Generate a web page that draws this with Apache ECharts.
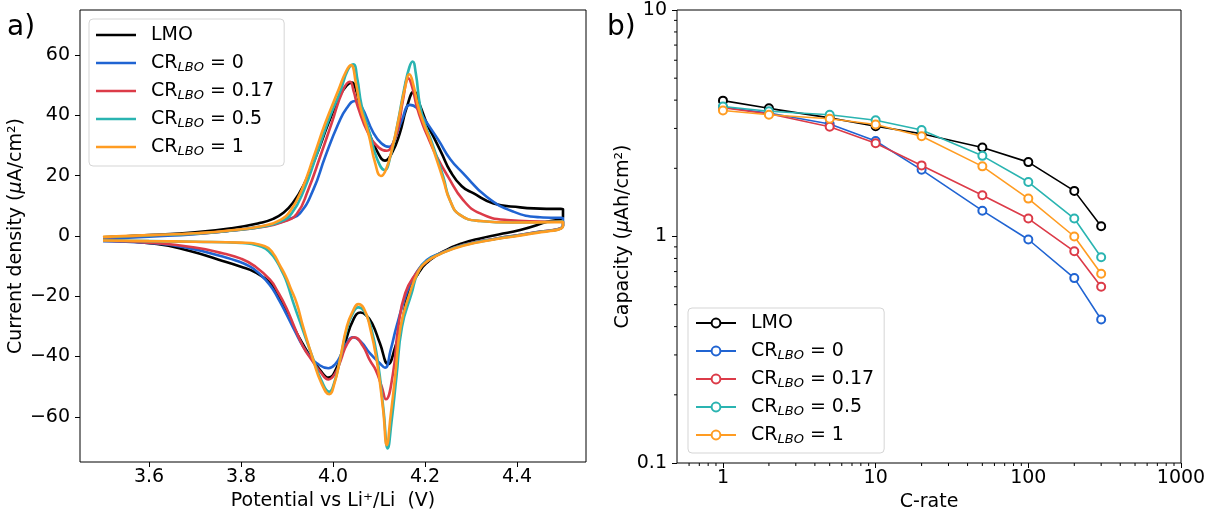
<!DOCTYPE html>
<html><head><meta charset="utf-8">
<script src="https://cdn.jsdelivr.net/npm/echarts@6/dist/echarts.min.js"></script>
<style>html,body{margin:0;padding:0;background:#fff}#c{width:1209px;height:510px}</style>
</head><body><div id="c"></div>
<script>
// ---------- Panel a: cyclic voltammograms, [potential V, current µA/cm²] ----------
const lmoAnodic = [[3.50,-0.4],[3.60,0.3],[3.70,1.2],[3.78,2.6],[3.84,4.3],[3.87,5.7],[3.893,7.8],[3.913,11],[3.936,16.8],[3.964,26.8],[3.99,37.4],[4.015,46.5],[4.03,50],[4.041,50.9],[4.05,48.5],[4.058,43.5],[4.079,34],[4.098,27.5],[4.113,25],[4.128,27.5],[4.145,34],[4.16,42.5],[4.176,47.9],[4.19,43],[4.205,37],[4.22,32.5],[4.236,27.5],[4.255,21.5],[4.28,16.5],[4.305,14.2],[4.349,10.8],[4.407,9.5],[4.45,9.1],[4.5,8.9]];
const lmoCathodic = [[4.5,6.4],[4.465,4.7],[4.407,2.0],[4.36,0.5],[4.32,-0.8],[4.28,-2.5],[4.247,-4.6],[4.211,-8],[4.185,-12.5],[4.164,-19],[4.148,-30.1],[4.135,-37],[4.12,-42.5],[4.102,-35.6],[4.085,-29],[4.072,-26.3],[4.06,-25.4],[4.045,-27.5],[4.026,-35.6],[4.01,-43],[3.99,-47],[3.972,-44.5],[3.953,-40.5],[3.935,-36],[3.917,-31],[3.899,-25],[3.88,-19.5],[3.863,-15.5],[3.83,-12],[3.8,-10.2],[3.75,-7.8],[3.689,-5],[3.617,-2.6],[3.5,-1.5]];
const cr0Anodic = [[3.50,-1.0],[3.60,-0.2],[3.70,0.6],[3.78,1.8],[3.85,3.3],[3.88,4.3],[3.905,5.6],[3.928,7.5],[3.957,15.3],[3.983,26.3],[4.012,37.4],[4.03,42.5],[4.048,44.8],[4.062,42.9],[4.087,34.5],[4.105,30.8],[4.122,29.6],[4.135,32.5],[4.15,38.5],[4.167,43.5],[4.182,42.5],[4.2,38.5],[4.229,31.9],[4.255,25.5],[4.283,20.8],[4.334,13],[4.392,8.1],[4.45,6.2],[4.5,5.9]];
const cr0Cathodic = [[4.5,3.6],[4.428,0.9],[4.356,-0.8],[4.283,-3],[4.233,-5.8],[4.204,-8],[4.18,-12.5],[4.16,-19],[4.138,-30.1],[4.125,-38],[4.113,-43.7],[4.1,-42],[4.08,-38.9],[4.06,-35],[4.043,-33.6],[4.03,-35.5],[4.019,-38.9],[4.005,-42.5],[3.99,-43.9],[3.965,-42.3],[3.95,-40],[3.935,-36.7],[3.917,-31.5],[3.899,-26],[3.88,-20.5],[3.863,-16.3],[3.84,-12.5],[3.82,-10.2],[3.79,-8.2],[3.762,-6.9],[3.689,-4.1],[3.6,-2.3],[3.5,-1.7]];
const cr017Anodic = [[3.50,-0.5],[3.60,0.2],[3.70,0.8],[3.78,1.8],[3.85,3.1],[3.89,4.6],[3.921,7.3],[3.946,15.3],[3.972,26.3],[3.997,37.4],[4.022,48.5],[4.037,51.2],[4.045,48],[4.054,42.9],[4.077,34],[4.1,29.3],[4.117,28.3],[4.13,30.5],[4.142,36],[4.152,45],[4.164,52.3],[4.173,49],[4.182,43],[4.195,37],[4.209,31.9],[4.225,26.5],[4.25,19.7],[4.283,11.9],[4.32,7.5],[4.378,5.3],[4.45,4.8],[4.5,4.7]];
const cr017Cathodic = [[4.5,3.5],[4.428,0.9],[4.356,-0.8],[4.283,-3],[4.233,-5.8],[4.204,-8.5],[4.18,-12.5],[4.157,-19],[4.142,-30.1],[4.13,-46],[4.115,-54.2],[4.106,-50],[4.093,-44.5],[4.08,-41.2],[4.065,-36.5],[4.046,-33.6],[4.03,-36],[4.017,-41.2],[4.005,-45.5],[3.99,-47.6],[3.972,-45],[3.953,-41],[3.935,-36.7],[3.917,-30.5],[3.899,-24],[3.88,-18.5],[3.863,-14.5],[3.83,-10],[3.8,-7.5],[3.762,-5.8],[3.7,-3.8],[3.6,-2.2],[3.5,-1.6]];
const cr05Anodic = [[3.50,-0.4],[3.60,0.2],[3.70,0.8],[3.78,1.8],[3.85,3.2],[3.885,4.7],[3.91,7.5],[3.937,15.3],[3.963,26.3],[3.988,37.4],[4.017,48.5],[4.032,55],[4.044,57],[4.053,52],[4.062,43.5],[4.08,34],[4.096,25.5],[4.112,21.9],[4.125,26.5],[4.14,37],[4.155,49],[4.166,56],[4.173,57.9],[4.18,54],[4.189,43.5],[4.2,37],[4.213,31.9],[4.225,26.5],[4.24,19.5],[4.254,12],[4.276,7],[4.32,5],[4.39,4.5],[4.5,4.8]];
const cr05Cathodic = [[4.5,3.4],[4.428,0.8],[4.356,-0.9],[4.283,-3.1],[4.233,-5.9],[4.204,-8.3],[4.185,-12],[4.171,-19],[4.15,-30.1],[4.138,-46.7],[4.127,-62],[4.119,-70.5],[4.11,-58],[4.097,-41.2],[4.082,-30],[4.068,-25],[4.055,-23.7],[4.042,-26],[4.03,-31],[4.015,-41.2],[4.003,-48.5],[3.992,-51.7],[3.975,-48],[3.955,-40],[3.932,-30.1],[3.914,-22.3],[3.9,-15.5],[3.89,-12],[3.878,-8.5],[3.865,-5.8],[3.845,-3.6],[3.8,-2.3],[3.7,-1.9],[3.6,-1.7],[3.5,-1.5]];
const cr1Anodic = [[3.50,-0.3],[3.60,0.3],[3.70,0.9],[3.78,1.9],[3.85,3.4],[3.885,5.3],[3.907,8.3],[3.932,15.3],[3.958,26.3],[3.983,37.4],[4.012,48.5],[4.028,54.5],[4.039,56.7],[4.05,50.5],[4.059,43],[4.077,34],[4.092,24],[4.104,19.9],[4.115,22],[4.13,30],[4.145,40.5],[4.157,49.5],[4.166,53.7],[4.175,50],[4.185,43],[4.198,37],[4.211,31.9],[4.225,25.5],[4.24,18.5],[4.254,11.9],[4.276,7],[4.32,5],[4.39,4.5],[4.5,4.7]];
const cr1Cathodic = [[4.5,3.3],[4.428,0.7],[4.356,-1],[4.283,-3.2],[4.233,-6],[4.204,-8.5],[4.185,-12],[4.167,-19],[4.147,-30.1],[4.135,-46.7],[4.125,-60],[4.117,-69.4],[4.109,-57.7],[4.095,-41.2],[4.08,-30],[4.067,-24],[4.055,-22.6],[4.043,-25],[4.03,-30.1],[4.015,-41.2],[4.003,-49],[3.992,-52.5],[3.975,-48.9],[3.957,-41.2],[3.935,-30.1],[3.921,-22.3],[3.907,-17],[3.897,-13.3],[3.884,-9.6],[3.87,-5.8],[3.852,-3.4],[3.8,-2.2],[3.7,-1.9],[3.6,-1.7],[3.5,-1.5]];
const cvXTicks = [3.6, 3.8, 4.0, 4.2, 4.4];
const cvYTicks = [-60, -40, -20, 0, 20, 40, 60];

// ---------- Panel b: rate capability ----------
const cRates = [1, 2, 5, 10, 20, 50, 100, 200, 300];
const capLMO   = [3.98, 3.68, 3.34, 3.07, 2.84, 2.47, 2.13, 1.59, 1.11];
const capCR0   = [3.72, 3.51, 3.14, 2.64, 1.97, 1.30, 0.97, 0.655, 0.43];
const capCR017 = [3.70, 3.48, 3.05, 2.58, 2.06, 1.52, 1.20, 0.86, 0.60];
const capCR05  = [3.75, 3.57, 3.45, 3.26, 2.95, 2.27, 1.74, 1.20, 0.81];
const capCR1   = [3.60, 3.45, 3.31, 3.12, 2.77, 2.04, 1.47, 1.00, 0.685];
const rateXTicks = [1, 10, 100, 1000];
const rateXMinor = [0.6,0.7,0.8,0.9,2,3,4,5,6,7,8,9,20,30,40,50,60,70,80,90,200,300,400,500,600,700,800,900];
const rateYMinor = [0.2,0.3,0.4,0.5,0.6,0.7,0.8,0.9,2,3,4,5,6,7,8,9];

const labels = ['LMO', 'CR = 0', 'CR = 0.17', 'CR = 0.5', 'CR = 1'];
const colors = ['#000000', '#2064d2', '#dc3b48', '#2ab4b1', '#ff9c22'];

const FONT = 'DejaVu Sans';
const fmtLegend = n => {
  const t = n.slice(2);
  return t.startsWith('CR') ? 'CR{s|LBO}' + t.slice(2) : t;
};
const minus = v => (v < 0 ? '\u2212' + Math.abs(v) : String(v));

const cvSets = [[lmoAnodic, lmoCathodic], [cr0Anodic, cr0Cathodic], [cr017Anodic, cr017Cathodic], [cr05Anodic, cr05Cathodic], [cr1Anodic, cr1Cathodic]];
const capSets = [capLMO, capCR0, capCR017, capCR05, capCR1];

const series = [];
cvSets.forEach((s, i) => {
  series.push({
    name: 'a:' + labels[i], type: 'line', xAxisIndex: 0, yAxisIndex: 0,
    data: s[0].concat(s[1]), showSymbol: false, symbol: 'none', smooth: 0.5,
    lineStyle: { color: colors[i], width: 2.6 }, itemStyle: { color: colors[i] },
    clip: true, z: 2 + i
  });
});
capSets.forEach((s, i) => {
  series.push({
    name: 'b:' + labels[i], type: 'line', xAxisIndex: 1, yAxisIndex: 1,
    data: cRates.map((c, k) => [c, s[k]]), symbol: 'emptyCircle', symbolSize: 8,
    lineStyle: { color: colors[i], width: 1.6 },
    itemStyle: { color: colors[i], borderColor: colors[i], borderWidth: 1.6 },
    z: 2 + i
  });
});
// minor log ticks (drawn through the axis scales)
series.push({
  type: 'custom', xAxisIndex: 1, yAxisIndex: 1, silent: true, clip: false,
  data: rateXMinor.map(v => [v, 0.1]),
  renderItem: (params, api) => {
    const p = api.coord([api.value(0), api.value(1)]);
    return { type: 'line', shape: { x1: p[0], y1: p[1], x2: p[0], y2: p[1] + 3 }, style: { stroke: '#000', lineWidth: 1 } };
  }
});
series.push({
  type: 'custom', xAxisIndex: 1, yAxisIndex: 1, silent: true, clip: false,
  data: rateYMinor.map(v => [0.5, v]),
  renderItem: (params, api) => {
    const p = api.coord([api.value(0), api.value(1)]);
    return { type: 'line', shape: { x1: p[0], y1: p[1], x2: p[0] - 3, y2: p[1] }, style: { stroke: '#000', lineWidth: 1 } };
  }
});

const legendBase = {
  orient: 'vertical', itemWidth: 40, itemGap: 6,
  backgroundColor: 'rgba(255,255,255,0.8)', borderColor: '#d5d5d5', borderWidth: 1, borderRadius: 4,
  formatter: fmtLegend, selectedMode: false,
  textStyle: {
    fontFamily: FONT, fontSize: 19, color: '#000', lineHeight: 22, padding: [0, 0, 0, 10],
    rich: { s: { fontFamily: FONT, fontSize: 13, fontStyle: 'italic', color: '#000', lineHeight: 13, verticalAlign: 'bottom' } }
  }
};

const axisText = { fontFamily: FONT, fontSize: 19, color: '#000' };
const lineIcon = 'path://M0,0H40V2.6H0Z';

const option = {
  animation: false,
  backgroundColor: '#fff',
  textStyle: { fontFamily: FONT },
  title: [
    { text: 'a)', left: 2, top: 9, textStyle: { fontFamily: FONT, fontSize: 28, fontWeight: 'normal', color: '#000' } },
    { text: 'b)', left: 602, top: 9, textStyle: { fontFamily: FONT, fontSize: 28, fontWeight: 'normal', color: '#000' } }
  ],
  grid: [
    { left: 80, top: 10, width: 506, height: 452, outerBoundsMode: 'none', containLabel: false, show: true, borderColor: '#000', borderWidth: 1, backgroundColor: 'transparent' },
    { left: 677, top: 10, width: 504, height: 453, outerBoundsMode: 'none', containLabel: false, show: true, borderColor: '#000', borderWidth: 1, backgroundColor: 'transparent' }
  ],
  xAxis: [
    {
      type: 'value', gridIndex: 0, min: 3.45, max: 4.55,
      name: 'Potential vs Li\u207A/Li  (V)', nameLocation: 'middle', nameGap: 22, nameTextStyle: axisText,
      axisLine: { show: false, onZero: false }, splitLine: { show: false },
      axisTick: { show: true, length: 5, customValues: cvXTicks, lineStyle: { color: '#000' } },
      axisLabel: { ...axisText, margin: 6, customValues: cvXTicks, formatter: v => v.toFixed(1) }
    },
    {
      type: 'log', gridIndex: 1, min: 0.5, max: 1000, logBase: 10,
      name: 'C-rate', nameLocation: 'middle', nameGap: 22, nameTextStyle: axisText,
      axisLine: { show: false, onZero: false }, splitLine: { show: false }, minorTick: { show: false },
      axisTick: { show: true, length: 5, customValues: rateXTicks, lineStyle: { color: '#000' } },
      axisLabel: { ...axisText, margin: 6, customValues: rateXTicks, formatter: v => String(Math.round(v)) }
    }
  ],
  yAxis: [
    {
      type: 'value', gridIndex: 0, min: -75, max: 75,
      name: 'Current density ({i|\u03BC}A/cm\u00B2)', nameLocation: 'middle', nameGap: 41,
      nameTextStyle: { ...axisText, rich: { i: { ...axisText, fontStyle: 'italic' } } },
      axisLine: { show: false, onZero: false }, splitLine: { show: false },
      axisTick: { show: true, length: 5, customValues: cvYTicks, lineStyle: { color: '#000' } },
      axisLabel: { ...axisText, margin: 10, customValues: cvYTicks, formatter: minus }
    },
    {
      type: 'log', gridIndex: 1, min: 0.1, max: 10, logBase: 10,
      name: 'Capacity ({i|\u03BC}Ah/cm\u00B2)', nameLocation: 'middle', nameGap: 28,
      nameTextStyle: { ...axisText, rich: { i: { ...axisText, fontStyle: 'italic' } } },
      axisLine: { show: false, onZero: false }, splitLine: { show: false }, minorTick: { show: false },
      axisTick: { show: true, length: 5, lineStyle: { color: '#000' } },
      axisLabel: { ...axisText, margin: 10, formatter: v => (v < 1 ? v.toFixed(1) : String(Math.round(v))) }
    }
  ],
  legend: [
    { ...legendBase, left: 89, top: 19, padding: [5, 10, 8, 7], itemHeight: 14,
      data: labels.map(l => ({ name: 'a:' + l, icon: lineIcon })) },
    { ...legendBase, left: 688, top: 308, padding: [4, 10, 7, 7], itemHeight: 11, data: labels.map(l => 'b:' + l) }
  ],
  series: series
};

const chart = echarts.init(document.getElementById('c'), null, { renderer: 'canvas' });
chart.setOption(option);
</script>
</body></html>
